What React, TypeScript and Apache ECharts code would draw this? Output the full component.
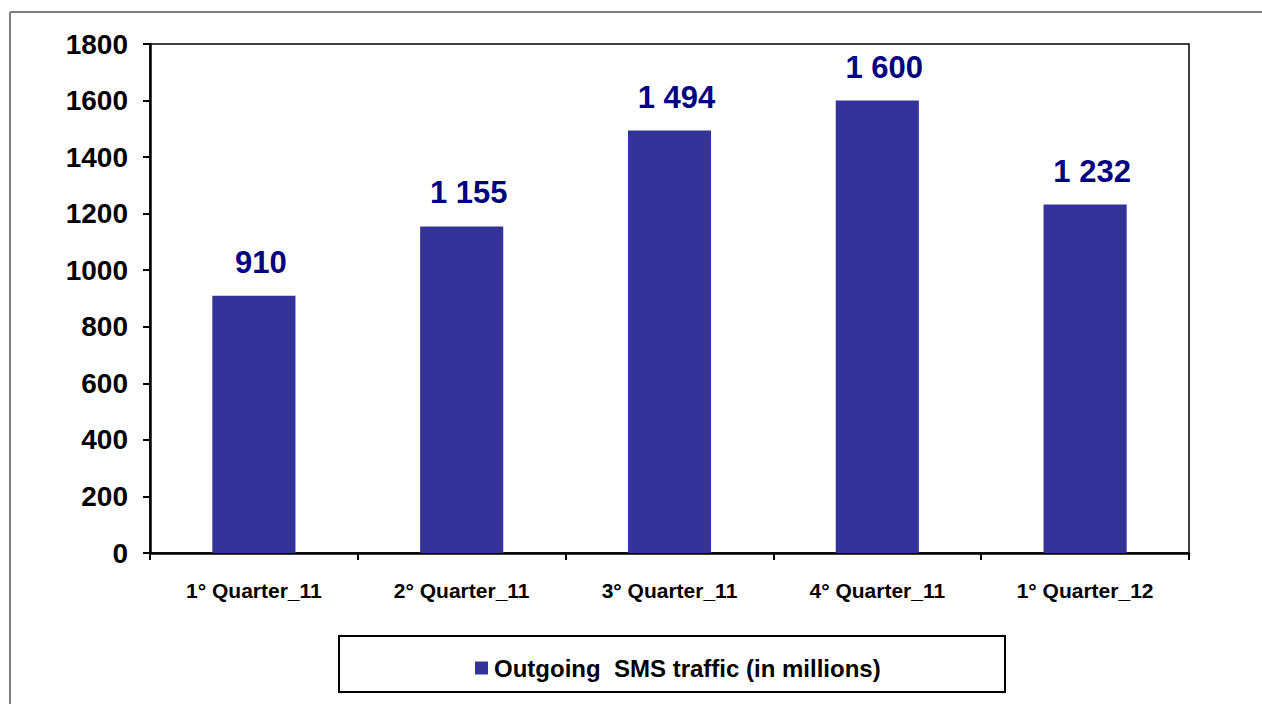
import React, { useEffect, useRef } from "react";
import * as echarts from "echarts";

const categories = ["1° Quarter_11", "2° Quarter_11", "3° Quarter_11", "4° Quarter_11", "1° Quarter_12"];
const smsTraffic = [910, 1155, 1494, 1600, 1232];
const seriesName = "Outgoing  SMS traffic (in millions)";

const fmt = (v: number) => {
  const s = String(Math.round(v));
  return s.replace(/\B(?=(\d{3})+(?!\d))/g, " ");
};

export default function App() {
  const ref = useRef<HTMLDivElement>(null);
  useEffect(() => {
    if (!ref.current) return;
    const chart = echarts.init(ref.current, null, { renderer: "svg" });
    const font = "Arial, 'Liberation Sans', sans-serif";
    chart.setOption({
      animation: false,
      backgroundColor: "#ffffff",
      grid: {
        left: 150,
        top: 44,
        right: 73,
        bottom: 151,
        show: true,
        borderColor: "#000",
        borderWidth: 1.5,
        containLabel: false,
      },
      xAxis: {
        type: "category",
        data: categories,
        axisLine: { show: true, lineStyle: { color: "#000", width: 2.5 } },
        axisTick: { show: true, alignWithLabel: false, length: 7, lineStyle: { color: "#000", width: 2 } },
        axisLabel: {
          color: "#000",
          fontFamily: font,
          fontWeight: "bold",
          fontSize: 21,
          margin: 27,
        },
        splitLine: { show: false },
      },
      yAxis: {
        type: "value",
        min: 0,
        max: 1800,
        interval: 200,
        axisLine: { show: true, lineStyle: { color: "#000", width: 2.5 } },
        axisTick: { show: true, length: 7, lineStyle: { color: "#000", width: 2 } },
        axisLabel: {
          color: "#000",
          fontFamily: font,
          fontWeight: "bold",
          fontSize: 28,
          margin: 22,
          formatter: (v: number) => String(v),
        },
        splitLine: { show: false },
      },
      legend: {
        show: true,
        left: 470,
        top: 651,
        itemWidth: 13,
        itemHeight: 13,
        icon: "rect",
        textStyle: { color: "#000", fontFamily: font, fontWeight: "bold", fontSize: 24, padding: [0, 0, 0, 1] },
        data: [seriesName],
      },
      series: [
        {
          name: seriesName,
          type: "bar",
          data: smsTraffic,
          barWidth: "40%",
          itemStyle: { color: "#333399" },
          label: {
            show: true,
            position: "top",
            distance: 16,
            offset: [7, -2],
            color: "#000080",
            fontFamily: font,
            fontWeight: "bold",
            fontSize: 31,
            formatter: (p: any) => fmt(p.value),
          },
        },
      ],
      graphic: [
        {
          type: "line",
          shape: { x1: 10, y1: 12, x2: 1262, y2: 12 },
          style: { stroke: "#7f7f7f", lineWidth: 2 },
          silent: true,
        },
        {
          type: "line",
          shape: { x1: 10, y1: 12, x2: 10, y2: 704 },
          style: { stroke: "#7f7f7f", lineWidth: 2 },
          silent: true,
        },
        {
          type: "rect",
          shape: { x: 339, y: 636, width: 666, height: 56 },
          style: { fill: "none", stroke: "#000", lineWidth: 2 },
          silent: true,
          z: -1,
        },
      ],
    });
    return () => chart.dispose();
  }, []);
  return (
    <div
      ref={ref}
      style={{ position: "fixed", left: 0, top: 0, width: 1262, height: 704 }}
    />
  );
}
